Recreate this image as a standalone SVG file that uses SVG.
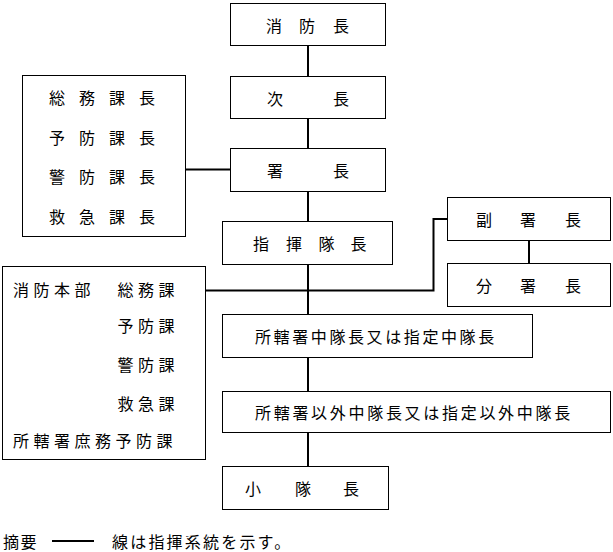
<svg xmlns="http://www.w3.org/2000/svg" width="613" height="552" viewBox="0 0 613 552">
<style>
rect.box{fill:#fff;stroke:#000;stroke-width:1}
text{font-family:"Noto Sans CJK JP","Noto Sans CJK SC",sans-serif;font-size:16px;fill:#000;dominant-baseline:central}
.conn{stroke:#000;stroke-width:2;fill:none}
</style>
<rect width="613" height="552" fill="#fff"/>
<g id="connectors">
<path class="conn" d="M308 45V76M308 118V148M308 191V221M308 264V314M308 357V391M308 432V466"/>
<path class="conn" d="M185 169.5H230"/>
<path class="conn" d="M205 290.5H433.5V219H447"/>
<path class="conn" d="M529 240V263"/>
<path class="conn" d="M52 541H94"/>
</g>
<g id="n-shobocho"><rect class="box" x="230.5" y="3.5" width="155" height="42"/><text x="266 299 333" y="24.5">消防長</text></g>
<g id="n-jicho"><rect class="box" x="230.5" y="76.5" width="155" height="42"/><text x="267 333" y="97.5">次長</text></g>
<g id="n-shocho"><rect class="box" x="230.5" y="148.5" width="155" height="43"/><text x="267 333" y="170">署長</text></g>
<g id="n-kacho"><rect class="box" x="22.5" y="75.5" width="163" height="161"/>
<text x="49 79 109 139" y="97">総務課長</text>
<text x="49 79 109 139" y="136.5">予防課長</text>
<text x="49 79 109 139" y="176">警防課長</text>
<text x="49 79 109 139" y="215.5">救急課長</text></g>
<g id="n-shikitaicho"><rect class="box" x="222.5" y="221.5" width="170" height="43"/><text x="253 286 318.5 350.5" y="243">指揮隊長</text></g>
<g id="n-fukushocho"><rect class="box" x="447.5" y="197.5" width="163" height="43"/><text x="476 520 565" y="219">副署長</text></g>
<g id="n-bunshocho"><rect class="box" x="447.5" y="263.5" width="163" height="43"/><text x="476 520 565" y="285">分署長</text></g>
<g id="n-honbu"><rect class="box" x="2.5" y="266.5" width="203" height="193"/>
<text x="13" y="289" letter-spacing="4.5">消防本部</text>
<text x="117.5" y="289" letter-spacing="4.5">総務課</text>
<text x="117.5" y="325" letter-spacing="4.5">予防課</text>
<text x="117.5" y="364" letter-spacing="4.5">警防課</text>
<text x="117.5" y="402.5" letter-spacing="4.5">救急課</text>
<text x="13" y="440" letter-spacing="4.5">所轄署庶務予防課</text></g>
<g id="n-chutaicho1"><rect class="box" x="222.5" y="314.5" width="310" height="43"/><text x="255" y="336" letter-spacing="2.6">所轄署中隊長又は指定中隊長</text></g>
<g id="n-chutaicho2"><rect class="box" x="222.5" y="391.5" width="388" height="41"/><text x="255" y="411.5" letter-spacing="2.7">所轄署以外中隊長又は指定以外中隊長</text></g>
<g id="n-shotaicho"><rect class="box" x="222.5" y="466.5" width="166" height="43"/><text x="245 295 343" y="488">小隊長</text></g>
<g id="legend">
<text x="3" y="541" letter-spacing="1.5">摘要</text>
<text x="112" y="541" letter-spacing="2.2">線は指揮系統を示す。</text>
</g>
</svg>
